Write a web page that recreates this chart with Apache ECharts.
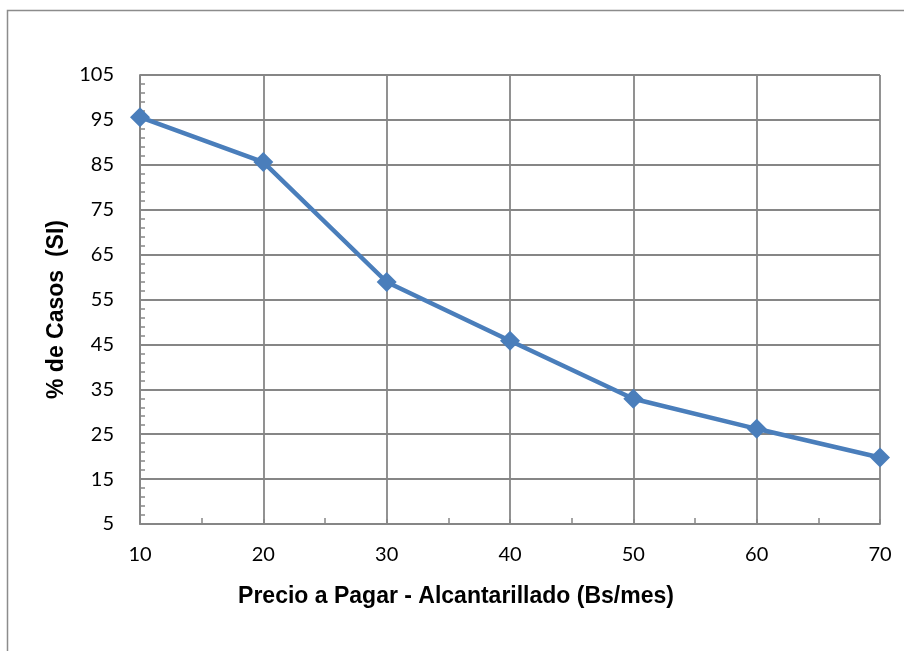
<!DOCTYPE html>
<html><head><meta charset="utf-8">
<script src="https://cdn.jsdelivr.net/npm/echarts@6/dist/echarts.min.js"></script>
<style>html,body{margin:0;padding:0;background:#fff}#c{width:904px;height:651px}</style>
</head><body><div id="c"></div>
<script>
const categories = [10, 20, 30, 40, 50, 60, 70];
const values = [95.6, 85.6, 58.9, 45.8, 32.9, 26.2, 19.8];
const xTitle = 'Precio a Pagar - Alcantarillado (Bs/mes)';
const yTitle = '% de Casos  (SI)';

const chart = echarts.init(document.getElementById('c'));
const gray = '#868686';
chart.setOption({
  animation: false,
  graphic: [{type:'rect', shape:{x:7.5, y:10.5, width:1000, height:1000}, style:{fill:'none', stroke:'#8c8c8c', lineWidth:1.5}, silent:true}],
  grid: {left:140, right:24, top:75, bottom:127, containLabel:false},
  xAxis: {
    type:'value', min:10, max:70, interval:10,
    name:xTitle, nameLocation:'middle', nameGap:61,
    nameTextStyle:{fontFamily:'Liberation Sans', fontWeight:'bold', fontSize:23, color:'#000', padding:[0,108,0,0]},
    axisLine:{show:true, lineStyle:{color:gray, width:1.8}},
    axisTick:{show:true, inside:true, length:5, lineStyle:{color:gray, width:1.5}},
    minorTick:{show:true, splitNumber:2, length:6, lineStyle:{color:gray, width:1.5}},
    splitLine:{show:true, lineStyle:{color:gray, width:1.8}},
    axisLabel:{fontFamily:'Lato', fontSize:20, color:'#000', margin:21}
  },
  yAxis: {
    type:'value', min:5, max:105, interval:10,
    name:yTitle, nameLocation:'middle', nameGap:65, nameRotate:90,
    nameTextStyle:{fontFamily:'Liberation Sans', fontWeight:'bold', fontSize:23, color:'#000', padding:[0,20,0,0]},
    axisLine:{show:true, lineStyle:{color:gray, width:1.8}},
    axisTick:{show:true, inside:true, length:5, lineStyle:{color:gray, width:1.5}},
    minorTick:{show:true, splitNumber:5, length:5, lineStyle:{color:gray, width:1.5}},
    splitLine:{show:true, lineStyle:{color:gray, width:1.8}},
    axisLabel:{fontFamily:'Lato', fontSize:20, color:'#000', margin:26}
  },
  series: [{
    type:'line',
    data: categories.map((c,i)=>[c, values[i]]),
    symbol:'diamond', symbolSize:20,
    lineStyle:{color:'#4a7ebb', width:4.5},
    itemStyle:{color:'#4a7ebb'}
  }]
});
</script></body></html>
